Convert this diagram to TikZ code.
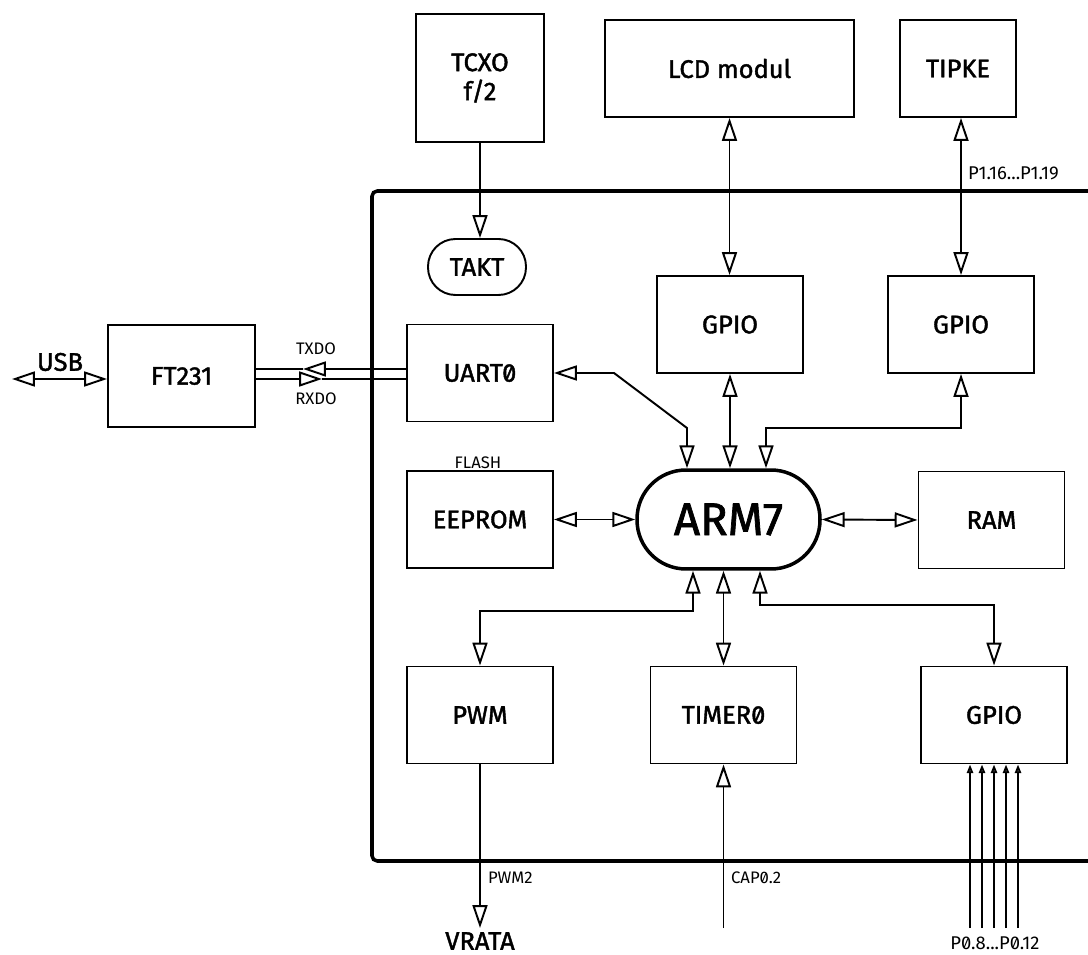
\documentclass[tikz,border=0pt]{standalone}
\usepackage{fontspec}
\setmainfont{Fira Sans}[RawFeature=+zero]
\newfontfamily\debeli{Fira Sans}[RawFeature=+zero, FakeBold=1.6]
\usetikzlibrary{arrows.meta}

\tikzset{
  otv/.tip={Triangle[open,length=13pt,width=8.5pt]},
  mala/.tip={Triangle[open,length=5pt,width=3.6pt]},
  blok/.style={draw, line width=1.1pt, minimum width=2.92cm, minimum height=1.94cm,
    inner sep=0pt, align=center, font=\debeli\fontsize{14.5}{16.5}\selectfont},
  veza/.style={line width=1.1pt, {otv}-{otv}},
  jedna/.style={line width=1.1pt, -{otv}},
  natpis/.style={font=\debeli\fontsize{14.5}{16.5}\selectfont},
  sitno/.style={font=\fontsize{9.5}{11}\selectfont, inner sep=1pt},
  srednje/.style={font=\fontsize{10.5}{12}\selectfont, inner sep=1pt}
}

\begin{document}
\begin{tikzpicture}[x=0.02cm, y=-0.02cm]
    \useasboundingbox (0,0) rectangle (1088,955);

    % Okvir mikrokontrolera
    \draw[line width=2pt, rounded corners=3pt]
        (1088,191) -- (372,191) -- (372,861) -- (1088,861);

    % Vanjski blokovi
    \node[blok, minimum width=2.56cm, minimum height=2.56cm] (tcxo) at (480,78) {TCXO\\f/2};
    \node[blok, minimum width=4.98cm] (lcd) at (729.5,68.5) {LCD modul};
    \node[blok, minimum width=2.32cm] (tipke) at (958,68.5) {TIPKE};
    \node[blok, minimum width=2.94cm, minimum height=2.04cm] (ft) at (181.5,376) {FT231};

    % Unutarnji blokovi
    \node[blok, rounded corners=0.55cm, minimum width=1.96cm, minimum height=1.12cm] (takt) at (477,267) {TAKT};
    \node[blok] (gpio1) at (730,324.5) {GPIO};
    \node[blok] (gpio2) at (961,324.5) {GPIO};
    \node[blok] (uart) at (480,373) {UART0};
    \node[blok] (eeprom) at (480,519.5) {EEPROM};
    \node[blok, line width=2pt, rounded corners=0.98cm, minimum width=3.66cm, minimum height=1.98cm,
        font=\debeli\fontsize{26}{30}\selectfont] (arm) at (728.5,519.5) {ARM7};
    \node[blok] (ram) at (991.5,520) {RAM};
    \node[blok] (pwm) at (480,715) {PWM};
    \node[blok] (timer) at (723.5,715) {TIMER0};
    \node[blok] (gpio3) at (994,715) {GPIO};

    % Takt
    \draw[jedna] (tcxo.south) -- (tcxo.south |- takt.north);

    % LCD i tipke
    \draw[veza] (lcd.south) -- (lcd.south |- gpio1.north);
    \draw[veza] (gpio2.north |- tipke.south) -- (gpio2.north);
    \node[srednje, anchor=west] at (966,173) {P1.16...P1.19};

    % Veze prema ARM7
    \coordinate (u1) at (614,373);
    \coordinate (u2) at (687,428);
    \draw[veza] (uart.east) -- (u1) -- (u2) -- (u2 |- arm.north);
    \draw[veza] (gpio1.south) -- (gpio1.south |- arm.north);
    \coordinate (g2) at (766,428);
    \draw[veza] (gpio2.south) |- (g2) -- (g2 |- arm.north);
    \draw[veza] (eeprom.east) -- (arm.west);
    \draw[veza] (arm.east) -- (ram.west);
    \node[sitno] at (478,463) {FLASH};

    \coordinate (p1) at (693,611);
    \draw[veza] (p1 |- arm.south) -- (p1) -| (pwm.north);
    \draw[veza] (timer.north |- arm.south) -- (timer.north);
    \coordinate (g3) at (760,605);
    \draw[veza] (g3 |- arm.south) -- (g3) -| (gpio3.north);

    % USB i serijska veza
    \coordinate (usb) at (12,379);
    \draw[veza] (usb) -- (usb -| ft.west);
    \node[natpis] at (60,362) {USB};

    \coordinate (tx) at (303,369);
    \draw[jedna] (uart.west |- tx) -- (tx);
    \draw[line width=1.1pt] (tx) -- (tx -| ft.east);
    \coordinate (rx) at (322,379);
    \draw[jedna] (ft.east |- rx) -- (rx);
    \draw[line width=1.1pt] (rx) -- (rx -| uart.west);
    \node[sitno] at (316,349) {TXDO};
    \node[sitno] at (316,399) {RXDO};

    % Izlazi i ulazi
    \node[natpis, inner sep=2pt] (vrata) at (480,941) {VRATA};
    \draw[jedna] (pwm.south) -- (480,928);
    \node[sitno, anchor=west] at (729,878) {CAP0.2};
    \node[sitno, anchor=west] at (486,878) {PWM2};

    \coordinate (cap) at (723.5,928);
    \draw[jedna] (cap) -- (timer.south);

    \foreach \x in {970,982,994,1006,1018}
        \draw[line width=1.1pt, -{mala}] (\x,928) -- (\x,928 |- gpio3.south);
    \node[srednje] at (995,943) {P0.8...P0.12};

\end{tikzpicture}
\end{document}
